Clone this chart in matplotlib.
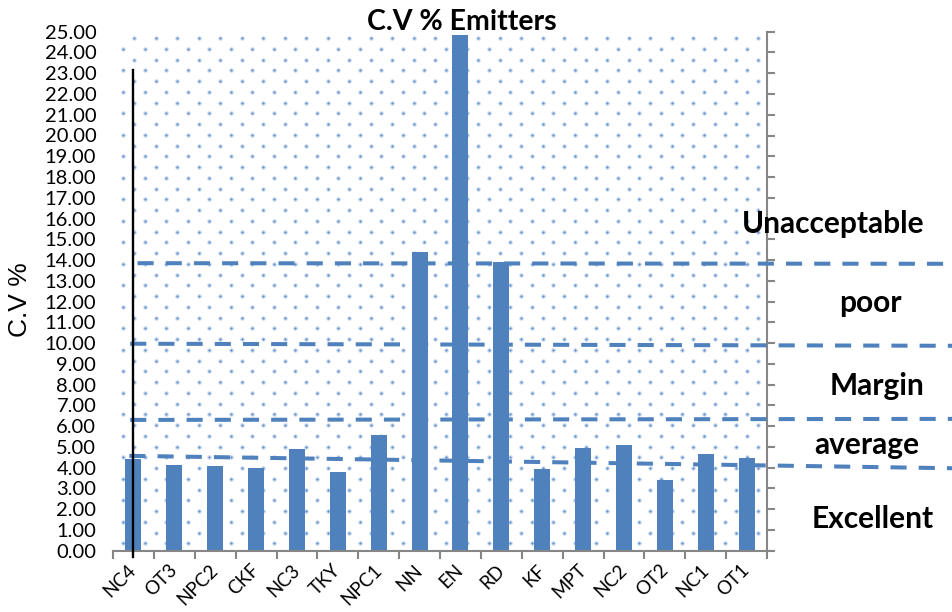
import matplotlib
matplotlib.use("Agg")
import matplotlib.pyplot as plt
import numpy as np

plt.rcParams['font.family'] = ['Lato', 'DejaVu Sans']

# data
emitters = ["NC4", "OT3", "NPC2", "CKF", "NC3", "TKY", "NPC1", "NN",
            "EN", "RD", "KF", "MPT", "NC2", "OT2", "NC1", "OT1"]
cv_values = [4.40, 4.13, 4.10, 3.99, 4.90, 3.78, 5.58, 14.41,
             24.85, 13.90, 3.92, 4.93, 5.09, 3.41, 4.64, 4.45]

# class boundaries (drawn as slightly sloped dashed lines), start / end values
limit_start = [13.85, 9.97, 6.30, 4.57]
limit_end = [13.82, 9.87, 6.35, 3.97]
limit_x0 = [0.10, -0.08, -0.08, -0.10]
limit_x1 = 20.1

class_names = ["Unacceptable", "poor", "Margin", "average", "Excellent"]
class_pos = [(833, 233), (870, 312), (877, 395), (867, 454), (873, 528)]

marker_top = 23.17

W, H = 952, 612
fig = plt.figure(figsize=(W / 100, H / 100), dpi=100)
left, right, top, bottom = 113, 767, 31.7, 550.7
ax = fig.add_axes([left / W, 1 - bottom / H, (right - left) / W, (bottom - top) / H])

blue = "#4F81BD"
grey = "#868686"

# dotted background pattern
dx, dy = 21.5, 10.75
px, py = [], []
for r in range(60):
    yy = 38 + r * dy
    if yy > bottom:
        break
    off = 134 if r % 2 == 0 else 123.3
    xs = np.arange(off, right, dx)
    px.extend(xs)
    py.extend([yy] * len(xs))
px = (np.array(px) - left) / (right - left)
py = (bottom - np.array(py)) / (bottom - top)
ax.scatter(px, py, s=6, facecolor="#6090cc", edgecolor="#cddcf1", linewidth=0.8,
           transform=ax.transAxes, zorder=1)

x = np.arange(len(emitters))
ax.bar(x, cv_values, width=0.39, color=blue, zorder=2)

for y0, y1, x0 in zip(limit_start, limit_end, limit_x0):
    ax.plot([x0, limit_x1], [y0, y1], color=blue, lw=2.9, dashes=(4, 3),
            clip_on=False, zorder=3, solid_capstyle="butt", dash_capstyle="butt")

ax.plot([0, 0], [-0.29, marker_top], color="black", lw=1.7, clip_on=False, zorder=4)

ax.set_xlim(-0.5, len(emitters) - 0.5)
ax.set_ylim(0, 25)
ax.set_yticks(np.arange(0, 26, 1))
ax.set_yticklabels(["%.2f" % v for v in np.arange(0, 26, 1)], fontsize=14.5)
ax.tick_params(axis="y", left=False, right=True, labelleft=True, labelright=False,
               direction="out", length=6, width=1.5, color=grey, pad=6)

ax.set_xticks(x)
ax.set_xticklabels(emitters, rotation=45, ha="right", va="center",
                   rotation_mode="anchor", fontsize=13.5)
ax.set_xticks(np.arange(-0.5, len(emitters), 1), minor=True)
ax.tick_params(axis="x", which="major", length=0, pad=12)
ax.tick_params(axis="x", which="minor", length=6, width=1.5, color=grey, direction="out")

for s in ["left", "top"]:
    ax.spines[s].set_visible(False)
for s in ["right", "bottom"]:
    ax.spines[s].set_color(grey)
    ax.spines[s].set_linewidth(1.5)

fig.text(461.7 / W, 1 - 30 / H, "C.V % Emitters", ha="center", va="baseline",
         fontsize=20.5, fontweight="bold")
fig.text(20 / W, 1 - 300 / H, "C.V %", rotation=90, ha="center", va="center",
         fontsize=19, family=["Liberation Sans", "DejaVu Sans"])

for name, (tx, ty) in zip(class_names, class_pos):
    fig.text(tx / W, 1 - ty / H, name, ha="center", va="baseline",
             fontsize=21.5, fontweight="bold")

fig.savefig("out.png", dpi=100)
